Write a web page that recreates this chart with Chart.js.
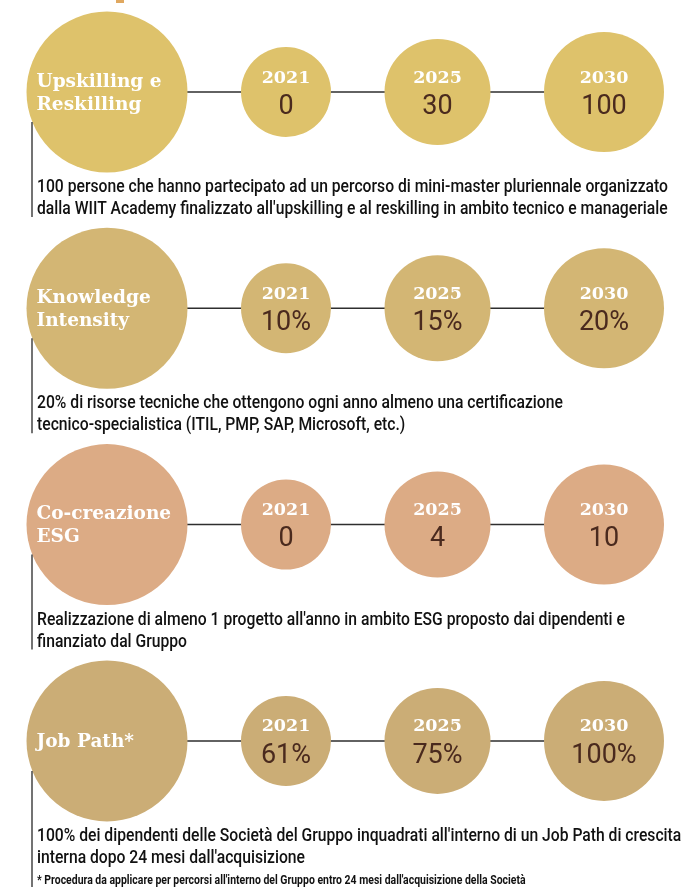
<!DOCTYPE html>
<html>
<head>
<meta charset="utf-8">
<script src="https://cdn.jsdelivr.net/npm/chart.js@4.4.0/dist/chart.umd.min.js"></script>
<style>
  html, body { margin: 0; padding: 0; background: #fff; overflow: hidden; }
  canvas { display: block; }
</style>
</head>
<body>
<canvas id="chart" width="700" height="887"></canvas>
<script>
/* WIIT — obiettivi persone, bubble layout */

const categories = [['Upskilling e', 'Reskilling'], ['Knowledge', 'Intensity'], ['Co-creazione', 'ESG'], ['Job Path*']];
const years = ['2021', '2025', '2030'];
const values2021 = [0, 10, 0, 61];
const values2025 = [30, 15, 4, 75];
const values2030 = [100, 20, 10, 100];
const units = ['', '%', '', '%'];
const descriptions = [
  ['100 persone che hanno partecipato ad un percorso di mini-master pluriennale organizzato',
   "dalla WIIT Academy finalizzato all'upskilling e al reskilling in ambito tecnico e manageriale"],
  ['20% di risorse tecniche che ottengono ogni anno almeno una certificazione',
   'tecnico-specialistica (ITIL, PMP, SAP, Microsoft, etc.)'],
  ["Realizzazione di almeno 1 progetto all'anno in ambito ESG proposto dai dipendenti e",
   'finanziato dal Gruppo'],
  ["100% dei dipendenti delle Società del Gruppo inquadrati all'interno di un Job Path di crescita",
   "interna dopo 24 mesi dall'acquisizione"]
];
const footnote = "* Procedura da applicare per percorsi all'interno del Gruppo entro 24 mesi dall'acquisizione della Società";

const rowColors = ['#dec26b', '#d3b674', '#dcab85', '#cbad76'];

// layout
const W = 700, H = 887;
const radii = [80.5, 45, 53, 60];
const gap = 53.5;
const firstX = 107;
const firstRow = 92;
const rowStep = 216.3;
const titleFont = 'bold 18.5px "DejaVu Serif"';
const yearFont = 'bold 17.5px "DejaVu Serif"';
const descFont = '500 18px Roboto';
const noteFont = 'bold 12px Roboto';
const descWidth = 631;   // width of the first description line (condensed type)

const colX = [firstX];
for (let i = 1; i < radii.length; i++) {
  colX.push(colX[i - 1] + radii[i - 1] + gap + radii[i]);
}

const yearValues = [values2021, values2025, values2030];

const lineSets = categories.map((_, i) => ({
  type: 'line',
  data: [{ x: colX[0], y: i }, { x: colX[3], y: i }],
  borderColor: '#2e2e2e',
  borderWidth: 1.5,
  pointRadius: 0,
  order: 10,
}));

const titleSet = {
  type: 'bubble',
  data: categories.map((c, i) => ({ x: colX[0], y: i, r: radii[0] })),
  backgroundColor: rowColors,
  borderWidth: 0,
  order: 1,
};

const yearSets = years.map((yr, k) => ({
  type: 'bubble',
  label: yr,
  data: yearValues[k].map((v, i) => ({ x: colX[k + 1], y: i, r: radii[k + 1] })),
  backgroundColor: rowColors,
  borderWidth: 0,
  order: 1,
}));

function condensedText(ctx, text, x, y, sx) {
  ctx.save();
  ctx.translate(x, y);
  ctx.scale(sx, 1);
  ctx.fillText(text, 0, 0);
  ctx.restore();
}

const labelsPlugin = {
  id: 'labels',
  afterDatasetsDraw(chart) {
    const ctx = chart.ctx;
    const titleMeta = chart.getDatasetMeta(lineSets.length);
    ctx.save();

    ctx.font = descFont;
    const sx = descWidth / ctx.measureText(descriptions[0][0]).width;

    // cut-off heading fragment at the top
    ctx.fillStyle = '#e0a860';
    ctx.fillRect(116, 0, 8, 3);

    categories.forEach((lines, i) => {
      const el = titleMeta.data[i];
      // title inside big circle
      ctx.fillStyle = '#ffffff';
      ctx.font = titleFont;
      ctx.textAlign = 'left';
      ctx.textBaseline = 'middle';
      const lh = 23;
      const top = el.y + 1.5 - (lines.length - 1) * lh / 2;
      lines.forEach((t, j) => ctx.fillText(t, el.x - radii[0] + 10, top + j * lh));

      // vertical rule
      ctx.strokeStyle = '#444';
      ctx.lineWidth = 1.5;
      ctx.beginPath();
      ctx.moveTo(el.x - 75, el.y + 30);
      ctx.lineTo(el.x - 75, i === categories.length - 1 ? H : el.y + 125);
      ctx.stroke();

      // description
      ctx.fillStyle = '#111';
      ctx.font = descFont;
      ctx.textBaseline = 'alphabetic';
      descriptions[i].forEach((t, j) => condensedText(ctx, t, el.x - 70, el.y + 100 + j * 22, sx));

      if (i === categories.length - 1) {
        ctx.font = noteFont;
        condensedText(ctx, footnote, el.x - 70, el.y + 143, sx);
      }
    });

    // years and values
    years.forEach((yr, k) => {
      const meta = chart.getDatasetMeta(lineSets.length + 1 + k);
      meta.data.forEach((el, i) => {
        ctx.textAlign = 'center';
        ctx.textBaseline = 'middle';
        ctx.fillStyle = '#ffffff';
        ctx.font = yearFont;
        ctx.fillText(yr, el.x, el.y - 14);
        ctx.fillStyle = '#4a2a1e';
        ctx.font = '27px Roboto';
        ctx.fillText(yearValues[k][i] + units[i], el.x, el.y + 15);
      });
    });
    ctx.restore();
  }
};

const yMin = -firstRow / rowStep;

new Chart(document.getElementById('chart'), {
  data: { datasets: [...lineSets, titleSet, ...yearSets] },
  options: {
    responsive: false,
    animation: false,
    events: [],
    devicePixelRatio: 1,
    layout: { padding: 0, autoPadding: false },
    clip: false,
    scales: {
      x: { type: 'linear', min: 0, max: W, display: false },
      y: { type: 'linear', min: yMin, max: yMin + H / rowStep, reverse: true, display: false }
    },
    plugins: {
      legend: { display: false },
      tooltip: { enabled: false }
    }
  },
  plugins: [labelsPlugin]
});
</script>
</body>
</html>
